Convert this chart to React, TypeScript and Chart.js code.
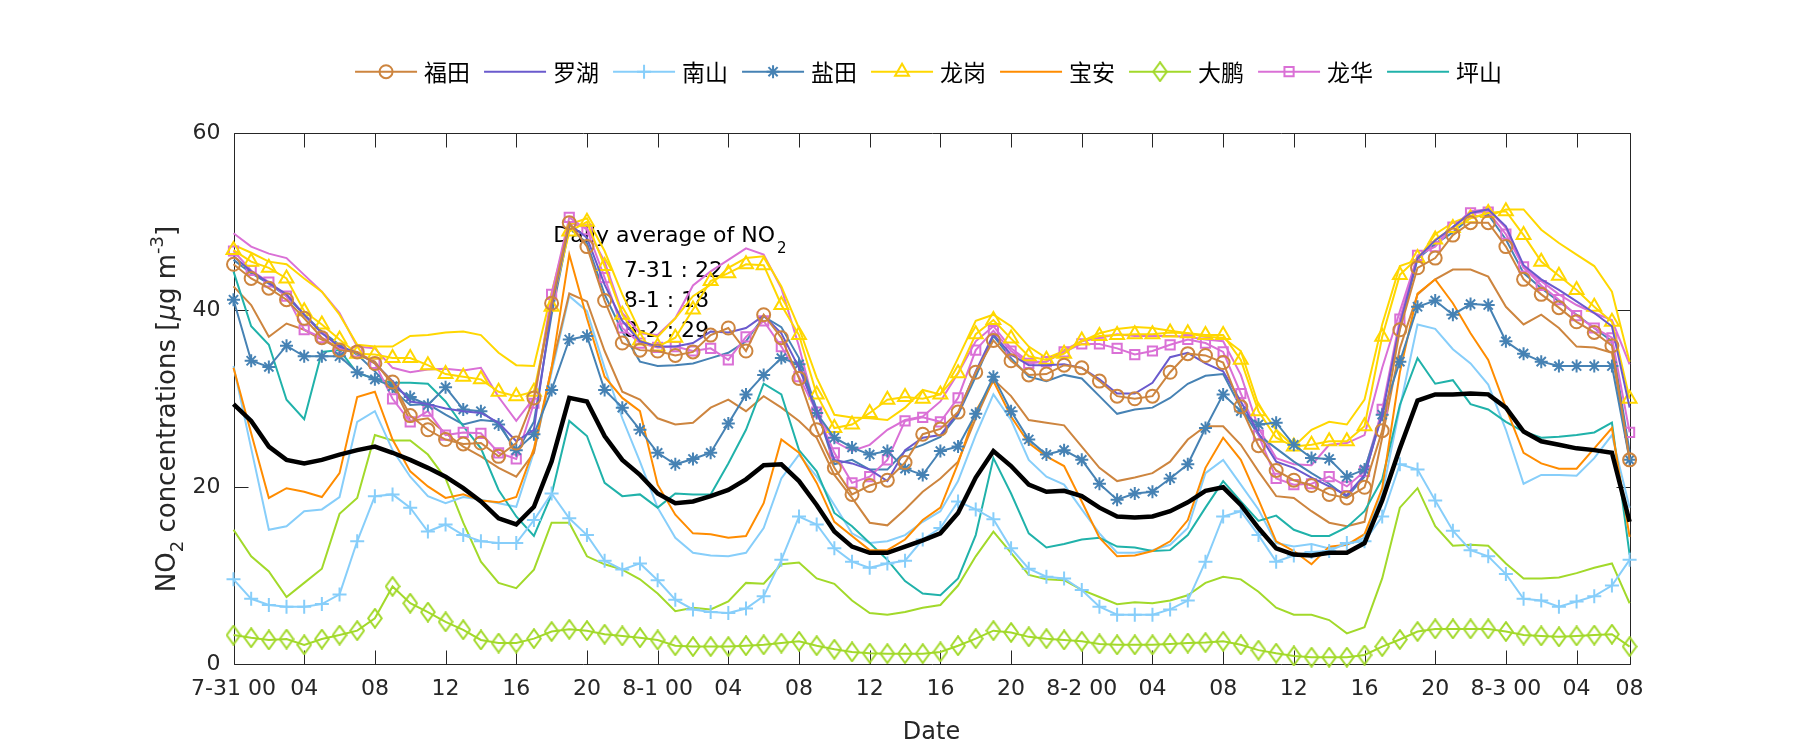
import React, { useEffect, useRef } from 'react';
import { Chart, registerables } from 'chart.js';

Chart.register(...registerables);

// ---------------- data ----------------
const HOURS: number[] = Array.from({ length: 80 }, (_, i) => i);
const TICK_POS = [0, 4, 8, 12, 16, 20, 24, 28, 32, 36, 40, 44, 48, 52, 56, 60, 64, 68, 72, 76, 79];
const TICK_LABELS = ['7-31 00', '04', '08', '12', '16', '20', '8-1 00', '04', '08', '12', '16', '20',
  '8-2 00', '04', '08', '12', '16', '20', '8-3 00', '04', '08'];
const Y_TICKS = [0, 20, 40, 60];

const FUTIAN = [45.2, 43.6, 42.5, 41.2, 39.1, 36.9, 35.5, 35.3, 34.0, 31.9, 28.1, 26.5, 25.4, 24.9,
  25.0, 23.5, 25.0, 30.1, 40.8, 49.9, 47.2, 41.1, 36.3, 35.5, 35.4, 34.9, 35.3,
  37.2, 38.0, 35.4, 39.5, 36.9, 32.3, 26.5, 22.2, 19.2, 20.2, 20.8, 22.8, 26.0,
  26.6, 28.5, 33.0, 36.6, 34.3, 32.7, 32.8, 33.8, 33.5, 32.0, 30.3, 30.0, 30.3,
  33.0, 35.1, 34.9, 34.1, 29.1, 24.7, 21.9, 20.8, 20.2, 19.2, 18.8, 20.0, 26.4,
  37.8, 44.8, 45.9, 48.5, 49.9, 49.9, 47.2, 43.5, 41.8, 40.3, 38.7, 37.5, 36.0, 23.1];
const LUOHU = [46.1, 44.4, 43.1, 41.8, 39.5, 37.4, 35.9, 35.2, 34.0, 32.0, 29.7, 29.4, 28.9, 28.6,
  28.4, 27.3, 25.2, 26.5, 40.3, 49.7, 48.2, 42.9, 38.8, 36.5, 35.9, 35.9, 36.3,
  37.6, 37.5, 38.0, 39.4, 37.4, 33.5, 28.6, 23.1, 22.7, 22.0, 20.7, 24.2, 25.6,
  25.9, 28.4, 33.1, 37.3, 35.0, 33.8, 33.8, 33.9, 33.5, 32.2, 30.6, 30.6, 31.8,
  34.7, 35.2, 34.0, 33.1, 29.7, 26.1, 22.9, 22.2, 21.1, 20.1, 19.1, 21.4, 28.2,
  38.4, 45.9, 47.9, 49.4, 51.0, 51.4, 49.5, 45.1, 43.5, 42.3, 41.0, 39.7, 38.2, 29.0];
const NANSHAN = [9.6, 7.4, 6.7, 6.5, 6.5, 6.8, 7.9, 13.9, 19.0, 19.2, 17.7, 15.0, 15.8, 14.6,
  13.9, 13.7, 13.7, 16.3, 19.3, 16.5, 14.6, 11.7, 10.7, 11.4, 9.5, 7.3, 6.2,
  5.9, 5.8, 6.3, 7.7, 11.8, 16.7, 15.8, 13.1, 11.6, 10.9, 11.4, 11.7, 14.1,
  15.4, 18.4, 17.5, 16.4, 13.1, 10.8, 9.9, 9.7, 8.4, 6.5, 5.6, 5.6, 5.6,
  6.2, 7.2, 11.6, 16.7, 17.3, 14.6, 11.6, 12.3, 12.7, 12.8, 13.7, 13.9, 16.7,
  22.6, 22.0, 18.5, 15.1, 12.9, 12.2, 10.2, 7.4, 7.2, 6.5, 7.1, 7.7, 8.9, 11.8];
const YANTIAN = [41.2, 34.3, 33.6, 36.0, 34.8, 34.8, 34.8, 33.0, 32.2, 31.4, 30.2, 29.3, 31.3, 28.8,
  28.6, 27.1, 24.2, 26.0, 31.0, 36.7, 37.1, 31.0, 29.0, 26.5, 23.9, 22.6, 23.2,
  23.9, 27.2, 30.5, 32.7, 34.6, 33.9, 28.4, 25.6, 24.5, 23.7, 24.1, 22.1, 21.4,
  24.1, 24.6, 28.3, 32.5, 28.6, 25.4, 23.7, 24.2, 23.1, 20.4, 18.6, 19.3, 19.5,
  21.0, 22.6, 26.7, 30.5, 28.6, 27.1, 27.3, 24.8, 23.3, 23.2, 21.2, 22.0, 28.2,
  34.2, 40.4, 41.1, 39.5, 40.7, 40.6, 36.5, 35.1, 34.2, 33.7, 33.7, 33.7, 33.7, 23.1];
const LONGGANG = [46.8, 45.5, 44.8, 43.6, 39.9, 38.4, 36.7, 35.1, 35.0, 34.6, 34.6, 33.8, 32.8, 32.5,
  32.2, 30.8, 30.3, 30.8, 40.4, 48.9, 50.0, 45.0, 39.5, 36.6, 35.9, 36.9, 40.1,
  43.3, 44.2, 45.2, 45.1, 40.6, 37.2, 30.5, 26.7, 27.1, 28.4, 29.9, 30.2, 30.0,
  30.5, 32.9, 37.3, 38.9, 36.8, 34.8, 34.4, 35.1, 36.6, 37.1, 37.2, 37.3, 37.3,
  37.5, 37.4, 37.2, 37.2, 34.4, 28.6, 25.6, 24.6, 24.8, 25.2, 25.2, 26.9, 37.0,
  44.0, 45.9, 48.0, 49.3, 50.4, 51.0, 51.2, 48.5, 45.5, 43.9, 42.3, 40.4, 38.7, 30.0];
const BAOAN = [33.5, 26.1, 18.8, 19.9, 19.5, 18.9, 21.6, 30.2, 30.8, 25.4, 21.8, 20.1, 18.8, 19.2,
  18.5, 18.3, 18.9, 24.4, 33.5, 46.3, 39.1, 32.5, 30.1, 28.6, 20.3, 16.9, 14.8,
  14.7, 14.3, 14.5, 18.2, 25.4, 23.9, 20.5, 16.1, 14.5, 12.9, 12.9, 14.1, 16.3,
  17.7, 22.7, 28.6, 32.0, 28.0, 25.0, 23.5, 22.4, 18.4, 14.3, 12.2, 12.3, 12.8,
  13.9, 16.3, 22.2, 25.6, 23.1, 18.6, 13.9, 12.8, 11.3, 13.3, 13.5, 14.7, 19.9,
  33.0, 41.9, 43.5, 40.8, 37.4, 34.4, 29.0, 23.9, 22.7, 22.1, 22.1, 24.4, 26.7, 14.4];
const DAPENG = [3.3, 3.0, 2.75, 2.85, 2.2, 2.85, 3.3, 3.8, 5.2, 8.8, 6.9, 5.9, 4.8, 3.9,
  2.75, 2.4, 2.4, 2.9, 3.7, 3.95, 3.8, 3.4, 3.2, 3.0, 2.75, 2.1, 2.0,
  2.0, 2.0, 2.1, 2.2, 2.4, 2.6, 2.1, 1.7, 1.4, 1.25, 1.2, 1.2, 1.2,
  1.4, 2.1, 2.9, 3.8, 3.6, 3.1, 2.9, 2.75, 2.6, 2.3, 2.2, 2.2, 2.2,
  2.3, 2.4, 2.45, 2.6, 2.2, 1.6, 1.25, 0.95, 0.8, 0.8, 0.8, 1.05, 2.0,
  2.8, 3.7, 4.0, 4.0, 4.0, 4.0, 3.7, 3.3, 3.2, 3.1, 3.2, 3.3, 3.4, 2.0];
const LONGHUA = [46.7, 44.5, 43.2, 41.6, 37.8, 36.9, 35.7, 35.3, 34.0, 30.0, 27.4, 28.6, 25.9, 26.2,
  26.1, 23.9, 23.2, 29.5, 41.8, 50.5, 49.1, 43.7, 38.0, 36.3, 35.8, 35.9, 35.4,
  35.7, 34.4, 37.0, 38.8, 35.9, 32.5, 28.5, 23.9, 20.5, 21.2, 23.1, 27.5, 27.9,
  27.4, 30.1, 35.5, 37.7, 35.4, 34.0, 34.2, 35.3, 36.2, 36.2, 35.7, 35.0, 35.4,
  36.1, 36.7, 36.3, 35.3, 30.6, 25.9, 21.0, 20.3, 20.4, 21.2, 20.1, 21.8, 28.8,
  39.0, 46.2, 47.2, 49.4, 51.0, 51.1, 48.6, 44.9, 42.8, 41.2, 39.4, 38.0, 36.9, 26.2];
const PINGSHAN = [44.4, 38.2, 36.1, 29.9, 27.7, 35.3, 35.5, 32.9, 32.3, 31.8, 31.8, 31.7, 29.7, 26.9,
  24.4, 19.7, 16.7, 14.5, 19.2, 27.5, 25.8, 20.5, 19.0, 19.2, 17.7, 19.3, 19.2,
  19.2, 22.7, 26.5, 31.7, 30.5, 24.2, 21.8, 17.1, 15.6, 13.7, 11.8, 9.4, 8.0,
  7.8, 9.7, 14.6, 23.3, 19.3, 14.8, 13.2, 13.6, 14.1, 14.3, 13.3, 13.2, 12.8,
  12.9, 14.6, 17.7, 20.7, 18.4, 16.2, 16.8, 15.2, 14.5, 14.5, 15.5, 17.3, 20.9,
  29.3, 34.6, 31.7, 32.1, 29.4, 28.8, 27.4, 26.3, 25.6, 25.7, 25.9, 26.2, 27.3, 12.4];

// second (unlabelled) line of several stations
const FUTIAN_2 = [42.7, 40.6, 37.0, 38.5, 37.8, 36.7, 35.7, 35.2, 34.2, 31.6, 27.5, 27.8, 26.1, 24.6,
  23.5, 22.2, 21.2, 23.9, 33.5, 41.9, 41.0, 35.4, 30.8, 29.9, 27.8, 27.1, 27.3,
  29.0, 29.9, 28.6, 30.3, 29.0, 27.5, 25.6, 21.4, 18.8, 16.0, 15.7, 17.5, 19.5,
  21.0, 22.9, 27.8, 32.2, 30.3, 27.6, 27.3, 27.0, 24.6, 22.2, 20.7, 21.1, 21.6,
  22.9, 25.4, 26.9, 26.9, 24.8, 21.8, 19.0, 18.8, 17.3, 16.0, 15.6, 16.1, 25.6,
  35.7, 41.8, 43.5, 44.6, 44.6, 43.8, 40.4, 38.4, 39.5, 38.0, 35.9, 35.8, 35.2, 23.1];
const NANSHAN_2 = [33.7, 24.4, 15.2, 15.6, 17.3, 17.5, 18.9, 27.4, 28.6, 24.2, 21.2, 19.0, 18.2, 18.9,
  18.6, 18.2, 17.8, 24.0, 33.0, 41.6, 39.9, 33.5, 27.8, 22.9, 17.7, 14.3, 12.6,
  12.3, 12.2, 12.6, 15.4, 21.0, 23.7, 21.2, 18.0, 14.8, 13.7, 13.9, 14.6, 16.1,
  17.3, 20.7, 25.9, 30.5, 27.6, 23.1, 21.2, 20.3, 17.5, 14.8, 12.6, 12.6, 12.9,
  13.5, 15.4, 21.6, 23.1, 20.3, 17.5, 13.7, 13.3, 13.6, 13.1, 13.5, 14.3, 19.2,
  29.0, 38.4, 37.9, 35.6, 34.0, 31.6, 26.5, 20.4, 21.4, 21.4, 21.3, 23.3, 25.9, 17.7];
const YANTIAN_2 = [45.7, 44.2, 43.0, 41.6, 39.5, 37.6, 36.1, 35.0, 33.1, 31.0, 29.3, 29.4, 28.2, 27.1,
  27.6, 27.4, 23.9, 27.4, 39.5, 49.3, 47.6, 41.8, 37.6, 34.2, 33.7, 33.8, 34.0,
  34.6, 35.2, 36.5, 39.3, 38.1, 34.6, 28.8, 22.6, 23.1, 22.0, 22.0, 24.1, 24.8,
  25.7, 28.2, 32.5, 37.1, 34.6, 32.5, 32.0, 32.7, 32.3, 30.3, 28.3, 28.8, 29.0,
  30.1, 31.7, 32.6, 32.8, 29.0, 25.9, 24.4, 22.9, 21.6, 20.4, 18.9, 21.2, 28.6,
  38.0, 45.8, 47.5, 48.8, 50.5, 50.8, 48.0, 44.2, 42.5, 41.0, 39.5, 38.0, 36.5, 24.0];
const LONGGANG_2 = [47.4, 46.5, 45.5, 45.2, 43.6, 42.1, 39.5, 36.1, 35.9, 35.9, 37.1, 37.2, 37.5, 37.6,
  37.2, 35.2, 33.8, 33.7, 42.0, 49.7, 50.4, 46.7, 41.8, 37.6, 37.0, 39.1, 41.6,
  42.9, 44.8, 45.9, 46.1, 42.7, 38.0, 32.4, 28.2, 27.9, 27.8, 27.6, 29.0, 31.0,
  30.5, 34.6, 38.8, 39.5, 38.2, 35.9, 34.6, 35.4, 36.5, 37.4, 37.9, 38.1, 38.0,
  37.7, 37.4, 37.0, 36.9, 35.4, 29.3, 26.5, 24.6, 26.5, 27.4, 27.1, 29.9, 38.4,
  45.0, 45.7, 48.6, 49.9, 50.7, 50.6, 51.4, 51.4, 49.1, 47.6, 46.3, 45.0, 42.1, 34.2];
const DAPENG_2 = [15.2, 12.2, 10.5, 7.6, 9.2, 10.8, 17.0, 18.8, 25.9, 25.3, 25.3, 23.7, 21.0, 16.0,
  11.6, 9.2, 8.6, 10.7, 16.0, 16.0, 12.2, 11.3, 10.7, 9.6, 8.0, 6.0, 6.4,
  6.2, 7.1, 9.2, 9.1, 11.3, 11.5, 9.7, 9.1, 7.2, 5.8, 5.6, 5.9, 6.4,
  6.7, 8.9, 12.2, 15.0, 12.6, 10.1, 9.6, 9.5, 8.4, 7.6, 6.8, 7.0, 6.9,
  7.2, 7.8, 9.2, 9.9, 9.6, 8.2, 6.4, 5.6, 5.6, 5.0, 3.5, 4.2, 9.7,
  17.7, 19.9, 15.6, 13.4, 13.5, 13.4, 11.4, 9.7, 9.7, 9.8, 10.3, 10.9, 11.4, 6.9];
const LONGHUA_2 = [48.7, 47.2, 46.4, 45.9, 44.0, 42.1, 39.7, 35.9, 35.7, 33.5, 33.0, 33.3, 33.4, 33.2,
  33.5, 30.2, 27.5, 30.1, 41.0, 49.9, 49.3, 45.5, 39.7, 37.4, 37.2, 39.1, 42.8,
  44.4, 45.7, 47.0, 46.3, 42.5, 35.9, 28.2, 25.2, 24.1, 24.8, 26.5, 27.6, 28.0,
  29.7, 32.9, 36.5, 38.2, 35.7, 34.2, 34.2, 35.5, 36.5, 36.9, 37.3, 37.1, 37.1,
  37.1, 37.0, 36.7, 36.5, 32.7, 26.7, 23.3, 22.6, 22.5, 24.8, 25.0, 25.9, 33.5,
  39.9, 46.1, 47.4, 49.4, 51.2, 51.4, 49.3, 44.8, 43.3, 41.8, 40.6, 39.7, 38.9, 33.9];

const AVERAGE = [29.4, 27.5, 24.6, 23.1, 22.7, 23.1, 23.7, 24.2, 24.6, 23.9, 23.1, 22.2, 21.2, 19.9,
  18.4, 16.5, 15.8, 17.8, 22.9, 30.1, 29.7, 25.8, 23.1, 21.4, 19.3, 18.2, 18.4,
  19.0, 19.7, 20.9, 22.5, 22.6, 20.7, 18.0, 15.0, 13.3, 12.6, 12.6, 13.3, 14.0,
  14.8, 17.1, 21.1, 24.1, 22.4, 20.3, 19.5, 19.6, 19.0, 17.7, 16.7, 16.6, 16.7,
  17.3, 18.3, 19.6, 20.0, 18.0, 15.4, 13.1, 12.4, 12.3, 12.6, 12.6, 13.7, 18.5,
  24.4, 29.8, 30.5, 30.5, 30.6, 30.5, 29.0, 26.3, 25.2, 24.8, 24.4, 24.2, 23.9, 16.1];

const DAILY_LINES = ['7-31 : 22', '8-1 : 18', '8-2 : 29'];

// ---------------- styles ----------------
const FONT = '"DejaVu Sans", "Liberation Sans", sans-serif';
const CJK = '"Noto Sans CJK SC", sans-serif';
const AXIS_COLOR = '#262626';

type Marker = 'none' | 'circle' | 'cross' | 'star' | 'triangle' | 'diamond' | 'rect';
interface Series { name: string; data: number[]; color: string; marker: Marker; r: number; legend: boolean; width: number; }

const SERIES: Series[] = [
  { name: '福田', data: FUTIAN, color: '#CD853F', marker: 'circle', r: 6.5, legend: true, width: 2 },
  { name: '罗湖', data: LUOHU, color: '#6A5ACD', marker: 'none', r: 0, legend: true, width: 2 },
  { name: '南山', data: NANSHAN, color: '#87CEFA', marker: 'cross', r: 7, legend: true, width: 2 },
  { name: '盐田', data: YANTIAN, color: '#4682B4', marker: 'star', r: 6.5, legend: true, width: 2 },
  { name: '龙岗', data: LONGGANG, color: '#FFD700', marker: 'triangle', r: 8, legend: true, width: 2 },
  { name: '宝安', data: BAOAN, color: '#FF8C00', marker: 'none', r: 0, legend: true, width: 2 },
  { name: '大鹏', data: DAPENG, color: '#A2D92A', marker: 'diamond', r: 8, legend: true, width: 2 },
  { name: '龙华', data: LONGHUA, color: '#DA70D6', marker: 'rect', r: 6.5, legend: true, width: 2 },
  { name: '坪山', data: PINGSHAN, color: '#20B2AA', marker: 'none', r: 0, legend: true, width: 2 },
  { name: '福田2', data: FUTIAN_2, color: '#CD853F', marker: 'none', r: 0, legend: false, width: 2 },
  { name: '南山2', data: NANSHAN_2, color: '#87CEFA', marker: 'none', r: 0, legend: false, width: 2 },
  { name: '盐田2', data: YANTIAN_2, color: '#4682B4', marker: 'none', r: 0, legend: false, width: 2 },
  { name: '龙岗2', data: LONGGANG_2, color: '#FFD700', marker: 'none', r: 0, legend: false, width: 2 },
  { name: '大鹏2', data: DAPENG_2, color: '#A2D92A', marker: 'none', r: 0, legend: false, width: 2 },
  { name: '龙华2', data: LONGHUA_2, color: '#DA70D6', marker: 'none', r: 0, legend: false, width: 2 },
  { name: 'avg', data: AVERAGE, color: '#000000', marker: 'none', r: 0, legend: false, width: 4.5 },
];

function makeDiamond(color: string): HTMLCanvasElement {
  const c = document.createElement('canvas');
  c.width = 16; c.height = 21;
  const g = c.getContext('2d')!;
  g.strokeStyle = color; g.lineWidth = 2;
  g.beginPath();
  g.moveTo(8, 1.2); g.lineTo(14.8, 10.5); g.lineTo(8, 19.8); g.lineTo(1.2, 10.5); g.closePath();
  g.stroke();
  return c;
}

function drawMarker(ctx: CanvasRenderingContext2D, s: Series, x: number, y: number, img?: HTMLCanvasElement) {
  const r = s.r;
  ctx.save();
  ctx.strokeStyle = s.color; ctx.lineWidth = 2;
  ctx.beginPath();
  switch (s.marker) {
    case 'circle': ctx.arc(x, y, r, 0, Math.PI * 2); break;
    case 'cross': ctx.moveTo(x - r, y); ctx.lineTo(x + r, y); ctx.moveTo(x, y - r); ctx.lineTo(x, y + r); break;
    case 'star': {
      const d = r * Math.SQRT1_2;
      ctx.moveTo(x - r, y); ctx.lineTo(x + r, y); ctx.moveTo(x, y - r); ctx.lineTo(x, y + r);
      ctx.moveTo(x - d, y - d); ctx.lineTo(x + d, y + d); ctx.moveTo(x - d, y + d); ctx.lineTo(x + d, y - d);
      break;
    }
    case 'triangle':
      ctx.moveTo(x, y - r); ctx.lineTo(x + r * 0.866, y + r * 0.5); ctx.lineTo(x - r * 0.866, y + r * 0.5); ctx.closePath(); break;
    case 'rect': { const h = r * Math.SQRT1_2; ctx.rect(x - h, y - h, 2 * h, 2 * h); break; }
    case 'diamond': if (img) ctx.drawImage(img, x - img.width / 2, y - img.height / 2); break;
    default: break;
  }
  ctx.stroke();
  ctx.restore();
}

export default function App() {
  const ref = useRef<HTMLCanvasElement | null>(null);

  useEffect(() => {
    const canvas = ref.current;
    if (!canvas) return;
    const diamondImg = makeDiamond('#A2D92A');

    const datasets = SERIES.map((s) => ({
      label: s.name,
      data: s.data,
      borderColor: s.color,
      backgroundColor: s.color,
      borderWidth: s.width,
      pointStyle: (s.marker === 'diamond' ? diamondImg : s.marker === 'none' ? false : s.marker) as any,
      pointRadius: s.marker === 'none' ? 0 : s.r,
      pointBorderWidth: 2,
      pointBorderColor: s.color,
      pointBackgroundColor: 'rgba(0,0,0,0)',
      pointHoverRadius: s.marker === 'none' ? 0 : s.r,
      tension: 0,
      fill: false,
      clip: false as any,
      order: s.name === 'avg' ? 0 : s.legend ? 1 : 2,
    }));

    const framePlugin = {
      id: 'frame',
      beforeDatasetsDraw(chart: any) {
        const { ctx, chartArea: a, scales } = chart;
        ctx.save();
        ctx.strokeStyle = AXIS_COLOR;
        ctx.lineWidth = 1;
        const L = Math.round(a.left) + 0.5, R = Math.round(a.right) + 0.5;
        const T = Math.round(a.top) + 0.5, B = Math.round(a.bottom) + 0.5;
        ctx.beginPath();
        ctx.rect(L, T, R - L, B - T);
        const tl = 14;
        TICK_POS.forEach((v) => {
          const x = Math.round(scales.x.getPixelForValue(v)) + 0.5;
          ctx.moveTo(x, B); ctx.lineTo(x, B - tl);
          ctx.moveTo(x, T); ctx.lineTo(x, T + tl);
        });
        Y_TICKS.forEach((v) => {
          const y = Math.round(scales.y.getPixelForValue(v)) + 0.5;
          ctx.moveTo(L, y); ctx.lineTo(L + tl, y);
          ctx.moveTo(R, y); ctx.lineTo(R - tl, y);
        });
        ctx.stroke();

        // annotation text (under the data)
        ctx.fillStyle = '#000';
        ctx.textBaseline = 'alphabetic';
        ctx.textAlign = 'left';
        const xs = scales.x, ys = scales.y;
        const x0 = xs.getPixelForValue(18.1);
        const y0 = ys.getPixelForValue(47.75);
        ctx.font = `22px ${FONT}`;
        const head = 'Daily average of NO';
        ctx.fillText(head, x0, y0);
        const hw = ctx.measureText(head).width;
        ctx.font = `15px ${FONT}`;
        ctx.fillText('2', x0 + hw + 2, y0 + 11);
        ctx.font = `22px ${FONT}`;
        const x1 = xs.getPixelForValue(22.08);
        const lineVals = [43.8, 40.4, 37.0];
        DAILY_LINES.forEach((t, i) => ctx.fillText(t, x1, ys.getPixelForValue(lineVals[i])));
        ctx.restore();
      },
      afterDraw(chart: any) {
        const { ctx, chartArea: a } = chart;
        ctx.save();
        // legend
        const items = SERIES.filter((s) => s.legend);
        ctx.font = `23px ${CJK}`;
        const LINE = 62, GAP = 7, SP = 14;
        const widths = items.map((s) => ctx.measureText(s.name).width);
        const total = widths.reduce((acc, w) => acc + LINE + GAP + w, 0) + SP * (items.length - 1);
        let x = (a.left + a.right) / 2 - total / 2 - 3;
        const y = 71.7;
        items.forEach((s, i) => {
          ctx.strokeStyle = s.color; ctx.lineWidth = 2;
          ctx.beginPath(); ctx.moveTo(x, y); ctx.lineTo(x + LINE, y); ctx.stroke();
          drawMarker(ctx, s, x + LINE / 2, y, diamondImg);
          ctx.fillStyle = '#000';
          ctx.textBaseline = 'middle';
          ctx.textAlign = 'left';
          ctx.font = `23px ${CJK}`;
          ctx.fillText(s.name, x + LINE + GAP, y + 1);
          x += LINE + GAP + widths[i] + SP;
        });

        // x title
        ctx.fillStyle = AXIS_COLOR;
        ctx.textAlign = 'center';
        ctx.textBaseline = 'alphabetic';
        ctx.font = `24px ${FONT}`;
        ctx.fillText('Date', (a.left + a.right) / 2, 739);

        // y title with sub/superscripts
        const parts: { t: string; f: string; dy: number }[] = [
          { t: 'NO', f: `26px ${FONT}`, dy: 0 },
          { t: '2', f: `18px ${FONT}`, dy: 8 },
          { t: ' concentrations [', f: `26px ${FONT}`, dy: 0 },
          { t: 'μ', f: `italic 26px ${FONT}`, dy: 0 },
          { t: 'g m', f: `26px ${FONT}`, dy: 0 },
          { t: '-3', f: `18px ${FONT}`, dy: -12 },
          { t: ']', f: `26px ${FONT}`, dy: 0 },
        ];
        const pw = parts.map((p) => { ctx.font = p.f; return ctx.measureText(p.t).width; });
        const tw = pw.reduce((s2, w) => s2 + w, 0);
        ctx.translate(175, 409);
        ctx.rotate(-Math.PI / 2);
        ctx.textAlign = 'left';
        let px = -tw / 2;
        parts.forEach((p, i) => {
          ctx.font = p.f;
          ctx.fillText(p.t, px, p.dy);
          px += pw[i];
        });
        ctx.restore();
      },
    };

    const chart = new Chart(canvas, {
      type: 'line',
      data: { labels: HOURS, datasets: datasets as any },
      options: {
        responsive: false,
        animation: false,
        devicePixelRatio: 1,
        events: [],
        layout: { padding: { left: 0, right: 170.4, top: 133.3, bottom: 0 } },
        plugins: { legend: { display: false }, tooltip: { enabled: false }, title: { display: false } },
        scales: {
          x: {
            type: 'linear',
            min: 0,
            max: 79,
            afterFit: (s: any) => { s.height = 85.7; },
            afterBuildTicks: (s: any) => { s.ticks = TICK_POS.map((v) => ({ value: v })); },
            ticks: {
              autoSkip: false,
              maxRotation: 0,
              minRotation: 0,
              padding: 12,
              color: AXIS_COLOR,
              font: { family: FONT, size: 22 },
              callback: (v: any) => TICK_LABELS[TICK_POS.indexOf(Number(v))] ?? '',
            },
            grid: { display: false, drawTicks: false },
            border: { display: false },
          },
          y: {
            min: 0,
            max: 60,
            afterFit: (s: any) => { s.width = 233.5; },
            afterBuildTicks: (s: any) => { s.ticks = Y_TICKS.map((v) => ({ value: v })); },
            ticks: {
              padding: 13,
              color: AXIS_COLOR,
              font: { family: FONT, size: 22 },
              callback: (v: any) => String(v),
            },
            grid: { display: false, drawTicks: false },
            border: { display: false },
          },
        },
      },
      plugins: [framePlugin],
    });
    return () => chart.destroy();
  }, []);

  return (
    <div style={{ position: 'fixed', left: 0, top: 0, width: 1800, height: 750, background: '#fff' }}>
      <canvas ref={ref} width={1800} height={750} style={{ display: 'block', width: 1800, height: 750 }} />
    </div>
  );
}
